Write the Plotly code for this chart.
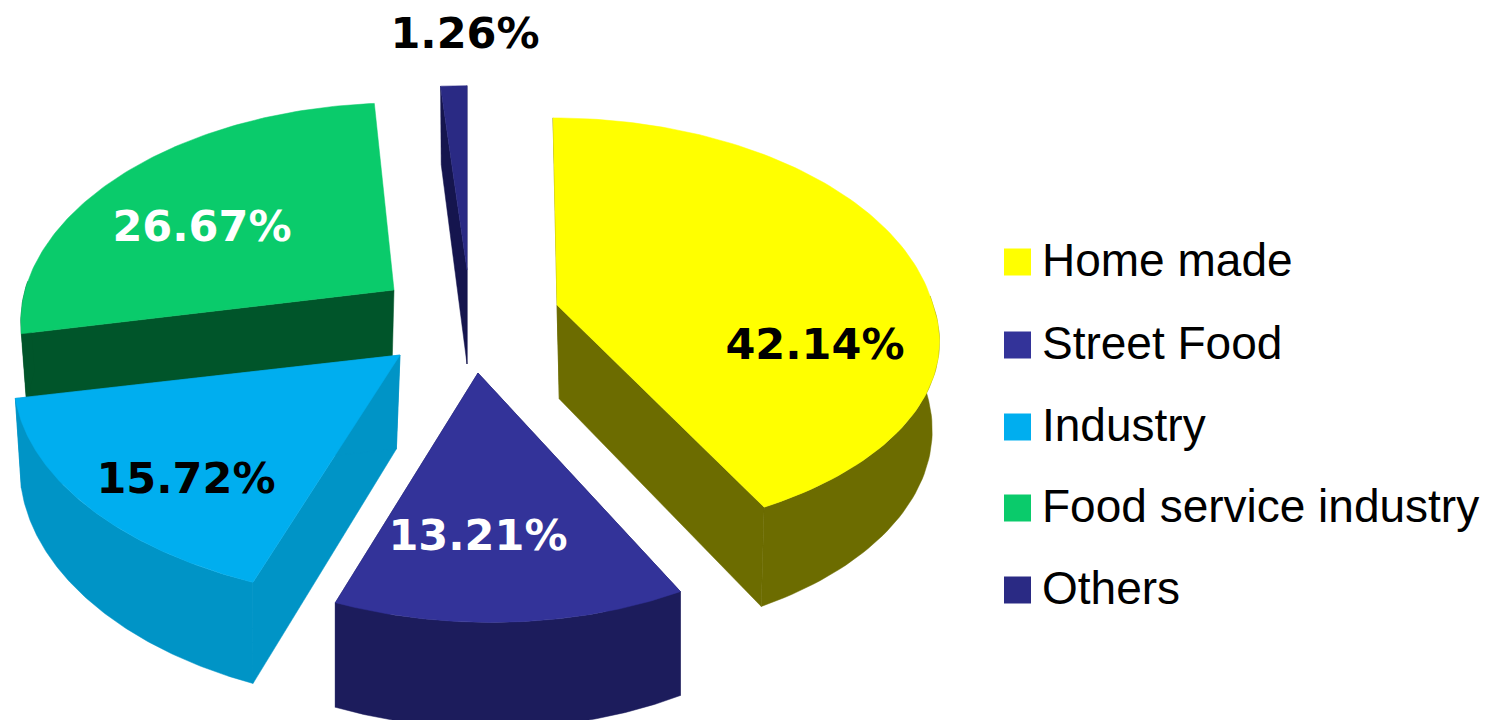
import numpy as np
import plotly.graph_objects as go

# --- data ---
categories = ["Home made", "Street Food", "Industry", "Food service industry", "Others"]
shares = [42.14, 13.21, 15.72, 26.67, 1.26]
labels = ["42.14%", "13.21%", "15.72%", "26.67%", "1.26%"]

# --- styles ---
top_colors = ["#FFFF00", "#333399", "#00AEEF", "#0ACB6B", "#2A2A84"]
wall_colors = ["#6C6C00", "#1C1C5C", "#0094C6", "#00552A", "#15154E"]
label_colors = ["#000000", "#FFFFFF", "#000000", "#FFFFFF", "#000000"]

# --- layout geometry of the exploded, tilted pie (pixels of the picture) ---
apex_x = [557, 478, 400, 394, 467]
apex_y = [305, 373, 355, 290, 270]
radius = [376, 367, 384, 369, 381]
back_shift = [-4, 0, 0, 6, 0]
front_shift = [13, 13, 16, 0, 0]
front_ry = [0.925, 1.0, 0.99, 1.0, 1.0]
back_ry = [1.015, 1.0, 1.0, 1.015, 1.0]
shrink_center = [650, 500, 255, 300, 467]
shrink = [0.975, 1.0, 0.975, 0.975, 0.975]
hide_end_face = [False, False, False, True, False]
depths = [86, 90, 87, 90, 90]
label_x = [815, 478, 186, 202, 465]
label_y = [348, 539, 482, 230, 37]
legend_y = [262, 345, 427, 508, 590]
legend_text_y = [264, 347, 429, 510, 592]
TILT_RY, PERSP, APEX_DEPTH = 212, 0.15, 94
LEGEND_X, LEGEND_TEXT_X = 1017.5, 1042
draw_order = [4, 3, 0, 2, 1]


def squeeze(i, x):
    return shrink_center[i] + (x - shrink_center[i]) * shrink[i]


def project(i, theta, depth=0.0):
    """Map a rim angle (degrees clockwise from 12 o'clock) to the picture."""
    t = np.radians(theta)
    X, Y = np.sin(t), -np.cos(t)
    s = 1.0 / (1.0 - PERSP * Y)
    x = (apex_x[i] + radius[i] * X * s
         + back_shift[i] * np.clip(-Y, 0, 1) + front_shift[i] * np.clip(Y, 0, 1))
    yscale = np.where(Y > 0, front_ry[i], back_ry[i])
    y = apex_y[i] + TILT_RY * Y * s * yscale + depth * s
    return (squeeze(i, x) if depth else x), y


def poly(x, y, color):
    return go.Scatter(x=x, y=y, mode="lines", fill="toself", fillcolor=color,
                      line=dict(color=color, width=0.5), hoverinfo="skip",
                      showlegend=False)


edges = np.concatenate([[0], np.cumsum(shares) / sum(shares) * 360])
fig = go.Figure()

for i in draw_order:
    a0, a1 = edges[i], edges[i + 1]
    th = np.linspace(a0, a1, 120)
    xt, yt = project(i, th)
    xb, yb = project(i, th, depths[i])
    ax, ay = float(apex_x[i]), float(apex_y[i])
    bx, by = squeeze(i, ax), ay + APEX_DEPTH
    # cut faces
    for a in ((a0,) if hide_end_face[i] else (a0, a1)):
        ex, ey = project(i, a)
        fx, fy = project(i, a, depths[i])
        fig.add_trace(poly([ax, ex, fx, bx, ax], [ay, ey, fy, by, ay], wall_colors[i]))
    # outer wall: only the part that faces the viewer
    front = np.cos(np.radians(th)) < 0.05
    if front.any():
        fig.add_trace(poly(np.r_[xt[front], xb[front][::-1]],
                           np.r_[yt[front], yb[front][::-1]], wall_colors[i]))
    # top face
    fig.add_trace(go.Scatter(
        x=np.r_[ax, xt, ax], y=np.r_[ay, yt, ay], mode="lines", fill="toself",
        fillcolor=top_colors[i], line=dict(color=top_colors[i], width=0.5),
        name=categories[i], text=f"{categories[i]}: {labels[i]}",
        hoverinfo="text", showlegend=False))

# value labels
fig.add_trace(go.Scatter(
    x=label_x, y=label_y, mode="text", text=labels, hoverinfo="skip", showlegend=False,
    textfont=dict(family="DejaVu Sans", size=43, color=label_colors, weight="bold")))

# legend column
for i, c in enumerate(categories):
    fig.add_trace(go.Scatter(
        x=[LEGEND_X], y=[legend_y[i]], mode="markers", hoverinfo="skip", showlegend=False,
        marker=dict(symbol="square", size=27, color=top_colors[i])))
    fig.add_trace(go.Scatter(
        x=[LEGEND_TEXT_X], y=[legend_text_y[i]], mode="text", text=[c],
        textposition="middle right", hoverinfo="skip", showlegend=False,
        textfont=dict(family="Liberation Sans", size=46, color="#000000")))

fig.update_layout(
    width=1495, height=720, margin=dict(l=0, r=0, t=0, b=0),
    paper_bgcolor="#FFFFFF", plot_bgcolor="#FFFFFF", showlegend=False,
    xaxis=dict(range=[0, 1495], visible=False, fixedrange=True),
    yaxis=dict(range=[720, 0], visible=False, fixedrange=True),
)
fig.write_html("out.html", config=dict(displayModeBar=False),
               post_script="document.body.style.margin='0';document.body.style.overflow='hidden';")
